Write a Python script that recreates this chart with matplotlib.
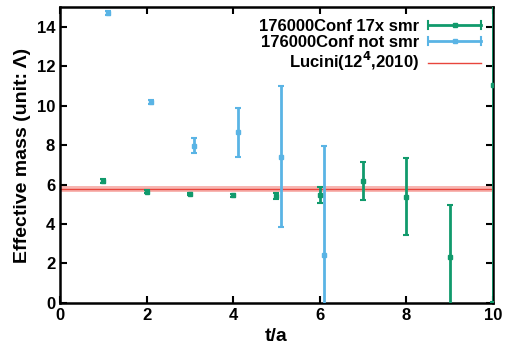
import matplotlib
matplotlib.use("Agg")
import matplotlib.pyplot as plt
from matplotlib.lines import Line2D
from matplotlib.legend_handler import HandlerBase

# donnees
t_smr = [1, 2, 3, 4, 5, 6, 7, 8, 9, 10]
m_smr = [6.18, 5.64, 5.52, 5.46, 5.42, 5.47, 6.18, 5.39, 2.33, 11.05]
err_smr = [0.08, 0.06, 0.07, 0.07, 0.15, 0.42, 0.95, 1.95, 2.64, 11.0]

t_not = [1.1, 2.1, 3.1, 4.1, 5.1, 6.1]
m_not = [14.71, 10.17, 7.97, 8.65, 7.42, 2.43]
err_not = [0.1, 0.1, 0.37, 1.23, 3.57, 5.55]

lucini_val = 5.78
lucini_err = 0.15

vert = "#119a6c"
bleu = "#5ab4e5"
rouge = "#e8453c"


# poignee de legende facon gnuplot : barre horizontale avec bouts et carre au milieu
class HandlerBarreH(HandlerBase):
    def __init__(self, couleur):
        super().__init__()
        self.couleur = couleur

    def create_artists(self, legend, orig_handle, xdescent, ydescent,
                       width, height, fontsize, trans):
        y = height / 2 - ydescent
        x0, x1 = -xdescent, width - xdescent
        ligne = Line2D([x0, x1], [y, y], color=self.couleur, lw=2, transform=trans)
        cap0 = Line2D([x0, x0], [y - 3, y + 3], color=self.couleur, lw=1.5, transform=trans)
        cap1 = Line2D([x1, x1], [y - 3, y + 3], color=self.couleur, lw=1.5, transform=trans)
        carre = Line2D([(x0 + x1) / 2], [y], marker="s", ms=3.5, color=self.couleur,
                       ls="", transform=trans)
        return [ligne, cap0, cap1, carre]


plt.rcParams["font.family"] = ["Liberation Sans", "DejaVu Sans"]
plt.rcParams["font.weight"] = "bold"

fig = plt.figure(figsize=(5.05, 3.53), dpi=100)
ax = fig.add_axes([0.119, 0.142, 0.857, 0.838])

ax.axhspan(lucini_val - lucini_err, lucini_val + lucini_err, color="#f7b6b2", lw=0)
l_luc = ax.axhline(lucini_val, color=rouge, lw=1.0)

e1 = ax.errorbar(t_smr, m_smr, yerr=err_smr, fmt="s", color=vert, ms=3.5, lw=2,
                 capsize=2.5, capthick=1.5, zorder=3)
e2 = ax.errorbar(t_not, m_not, yerr=err_not, fmt="s", color=bleu, ms=3.5, lw=2,
                 capsize=2.5, capthick=1.5, zorder=3)

ax.set_xlim(0, 10)
ax.set_ylim(0, 15)
ax.set_xticks(range(0, 11, 2))
ax.set_yticks(range(0, 15, 2))
ax.tick_params(direction="in", top=True, right=True, labelsize=12, length=5, width=1.5)
for s in ax.spines.values():
    s.set_linewidth(1.8)

ax.set_xlabel("t/a", fontsize=14, fontweight="bold")
ax.set_ylabel("Effective mass (unit: \u039b)", fontsize=14, fontweight="bold")

p1 = Line2D([], [], color=vert)
p2 = Line2D([], [], color=bleu)
ax.legend([p1, p2, l_luc],
          ["176000Conf 17x smr", "176000Conf not smr", "Lucini(12$^4$,2010)"],
          handler_map={p1: HandlerBarreH(vert), p2: HandlerBarreH(bleu)},
          loc="upper right", frameon=False, markerfirst=False, fontsize=12,
          handlelength=3.2, borderaxespad=0.3, labelspacing=0.05, handletextpad=0.5)

fig.savefig("out.png", dpi=100)
